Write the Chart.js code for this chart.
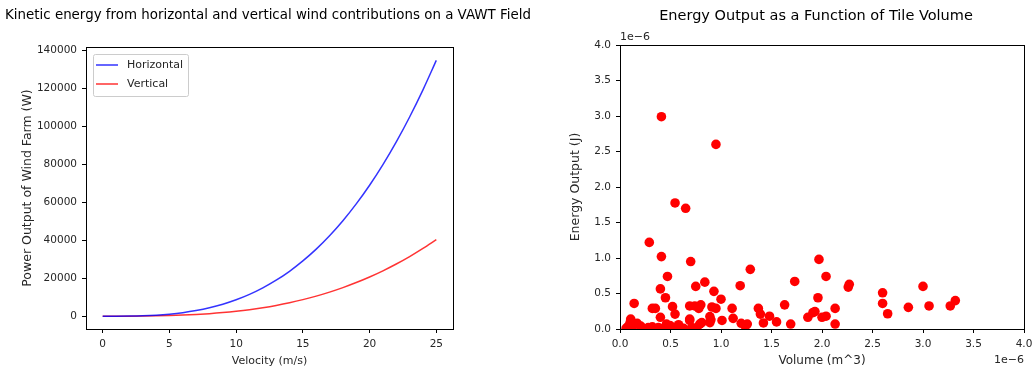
<!DOCTYPE html>
<html>
<head>
<meta charset="utf-8">
<script src="https://cdn.jsdelivr.net/npm/chart.js@4.4.1/dist/chart.umd.min.js"></script>
<style>
  html, body { margin: 0; padding: 0; background: #fff; }
  #wrap { position: relative; width: 1034px; height: 373px; }
  #left { position: absolute; left: 0; top: 0; }
  #right { position: absolute; left: 530px; top: 0; }
</style>
</head>
<body>
<div id="wrap">
  <canvas id="left" width="540" height="373"></canvas>
  <canvas id="right" width="504" height="373"></canvas>
</div>
<script>
// ── data: left panel (power vs wind velocity) ──
const velocity = [0, 1, 2, 3, 4, 5, 6, 7, 8, 9, 10, 11, 12, 13, 14, 15, 16, 17, 18, 19, 20, 21, 22, 23, 24, 25];
const horizontalPower = [0, 10, 70, 230, 550, 1080, 1860, 2960, 4410, 6280, 8620, 11470, 14900, 18940, 23650,
  29100, 35300, 42350, 50270, 59120, 68960, 79830, 91790, 104900, 119200, 134700];
const verticalPower = [0, 3, 21, 70, 165, 320, 560, 890, 1320, 1880, 2580, 3430, 4460, 5670, 7080,
  8710, 10570, 12680, 15050, 17700, 20640, 23890, 27470, 31390, 35670, 40310];
const velocityTicks = [0, 5, 10, 15, 20, 25];
const powerTicks = [0, 20000, 40000, 60000, 80000, 100000, 120000, 140000];

// ── data: right panel (energy vs tile volume), both in units of 1e-6 ──
const tileVolume = [0.41, 0.95, 0.545, 0.65, 0.29, 0.41, 0.70, 0.47, 0.40, 0.45, 0.14, 0.32, 0.35, 0.40, 0.52,
  0.545, 0.75, 0.84, 0.93, 1.00, 0.69, 0.74, 0.80, 0.78, 0.91, 0.95, 0.69, 0.89, 0.90, 1.01,
  1.11, 1.12, 1.19, 1.29, 1.37, 1.39, 1.48, 1.42, 1.55, 1.63, 1.73, 1.69, 1.20, 1.26, 1.24,
  1.97, 2.04, 1.96, 1.91, 1.86, 1.93, 2.00, 2.04, 2.13, 2.13, 2.26, 2.27, 2.60, 2.60, 2.65,
  2.855, 3.00, 3.06, 3.27, 3.32,
  0.106, 0.17, 0.08, 0.06, 0.23, 0.31, 0.32, 0.38, 0.46, 0.495, 0.58, 0.59, 0.69, 0.71, 0.79,
  0.81, 0.76, 0.89, 0.28, 0.205, 0.63, 0.53, 0.43, 0.10, 0.12];
const energyOutput = [2.99, 2.60, 1.775, 1.70, 1.22, 1.02, 0.95, 0.74, 0.565, 0.44, 0.36, 0.29, 0.29, 0.165, 0.315,
  0.21, 0.60, 0.66, 0.53, 0.42, 0.325, 0.325, 0.34, 0.29, 0.31, 0.29, 0.14, 0.175, 0.13, 0.12,
  0.29, 0.15, 0.61, 0.84, 0.29, 0.21, 0.18, 0.085, 0.10, 0.34, 0.67, 0.07, 0.08, 0.07, 0.04,
  0.98, 0.74, 0.44, 0.23, 0.165, 0.245, 0.165, 0.18, 0.29, 0.07, 0.59, 0.63, 0.51, 0.36, 0.215,
  0.305, 0.60, 0.325, 0.325, 0.40,
  0.14, 0.08, 0.035, 0.01, 0.01, 0.01, 0.03, 0.02, 0.07, 0.05, 0.06, 0.03, 0.12, 0.02, 0.07,
  0.09, 0.02, 0.09, 0.02, 0.04, 0.01, 0.02, 0.01, 0.09, 0.01];
const unitTicks = [0, 0.5, 1, 1.5, 2, 2.5, 3, 3.5, 4];

// ── shared style ──
const FONT = 'DejaVu Sans';
const INK = '#262626';

function axis(opts) {
  return {
    type: 'linear',
    min: opts.min, max: opts.max,
    afterBuildTicks: (s) => { s.ticks = opts.ticks.map(v => ({ value: v })); },
    afterFit: (s) => {
      if (opts.width) s.width = opts.width;
      if (opts.height) s.height = opts.height;
      s.paddingLeft = 0; s.paddingRight = 0; s.paddingTop = 0; s.paddingBottom = 0;
    },
    grid: { display: true, drawOnChartArea: false, drawTicks: true, tickLength: 4, color: '#000', lineWidth: 1 },
    border: { display: true, color: '#000', width: 1 },
    ticks: { autoSkip: false, maxRotation: 0, padding: 5, color: INK, font: { family: FONT, size: 10.5 }, callback: opts.fmt },
    title: { display: true, text: opts.title, color: INK, font: { family: FONT, size: opts.titleSize }, padding: { top: 4, bottom: 1 } },
  };
}

// frame + title (+ optional offset texts) drawn around the chart area
function framePlugin(title, titleX, titleSize, offsetText) {
  return {
    id: 'frame',
    afterDraw(chart) {
      const { ctx, chartArea: a } = chart;
      ctx.save();
      ctx.strokeStyle = '#000';
      ctx.lineWidth = 1;
      ctx.strokeRect(Math.round(a.left) + 0.5, Math.round(a.top) + 0.5,
        Math.round(a.right - a.left), Math.round(a.bottom - a.top));
      ctx.fillStyle = '#000';
      ctx.font = titleSize + 'px "' + FONT + '"';
      ctx.textAlign = 'center';
      ctx.textBaseline = 'middle';
      ctx.fillText(title, titleX, 16);
      if (offsetText) {
        ctx.fillStyle = INK;
        ctx.font = '11px "' + FONT + '"';
        ctx.textAlign = 'left';
        ctx.fillText(offsetText, a.left, 37);
        ctx.textAlign = 'right';
        ctx.fillText(offsetText, a.right, 360);
      }
      ctx.restore();
    },
  };
}

// matplotlib-like legend box in the upper left corner
const legendPlugin = {
  id: 'boxLegend',
  afterDraw(chart) {
    const { ctx, chartArea: a } = chart;
    const x = a.left + 7, y = a.top + 7, w = 95, h = 42;
    ctx.save();
    ctx.fillStyle = 'rgba(255,255,255,0.8)';
    ctx.strokeStyle = '#cccccc';
    ctx.lineWidth = 1;
    ctx.beginPath();
    ctx.roundRect(x + 0.5, y + 0.5, w, h, 2);
    ctx.fill();
    ctx.stroke();
    ctx.font = '11px "' + FONT + '"';
    ctx.textBaseline = 'middle';
    ctx.textAlign = 'left';
    chart.data.datasets.forEach((ds, i) => {
      const ly = y + 11 + i * 19;
      ctx.strokeStyle = ds.borderColor;
      ctx.lineWidth = 1.5;
      ctx.beginPath();
      ctx.moveTo(x + 3, ly);
      ctx.lineTo(x + 25, ly);
      ctx.stroke();
      ctx.fillStyle = INK;
      ctx.fillText(ds.label, x + 34, ly);
    });
    ctx.restore();
  },
};

new Chart(document.getElementById('left'), {
  type: 'line',
  data: {
    datasets: [
      { label: 'Horizontal', data: velocity.map((v, i) => ({ x: v, y: horizontalPower[i] })),
        borderColor: 'rgba(0,0,255,0.8)', borderWidth: 1.5, pointRadius: 0, cubicInterpolationMode: 'monotone' },
      { label: 'Vertical', data: velocity.map((v, i) => ({ x: v, y: verticalPower[i] })),
        borderColor: 'rgba(255,0,0,0.8)', borderWidth: 1.5, pointRadius: 0, cubicInterpolationMode: 'monotone' },
    ],
  },
  options: {
    responsive: false, animation: false,
    layout: { padding: { left: 16, right: 87, top: 47, bottom: 4 } },
    plugins: { legend: { display: false }, tooltip: { enabled: false } },
    scales: {
      x: axis({ min: -1.25, max: 26.25, ticks: velocityTicks, height: 40, fmt: v => String(v),
        title: 'Velocity (m/s)', titleSize: 11 }),
      y: axis({ min: -6750, max: 141750, ticks: powerTicks, width: 70, fmt: v => String(v),
        title: 'Power Output of Wind Farm (W)', titleSize: 12.5 }),
    },
  },
  plugins: [framePlugin('Kinetic energy from horizontal and vertical wind contributions on a VAWT Field', 268, 13.4), legendPlugin],
});

new Chart(document.getElementById('right'), {
  type: 'scatter',
  data: {
    datasets: [
      { label: 'Energy', data: tileVolume.map((v, i) => ({ x: v, y: energyOutput[i] })),
        backgroundColor: '#ff0000', borderWidth: 0, pointRadius: 4.8, clip: 0 },
    ],
  },
  options: {
    responsive: false, animation: false,
    layout: { padding: { left: 34, right: 10, top: 45, bottom: 4 } },
    plugins: { legend: { display: false }, tooltip: { enabled: false } },
    scales: {
      x: axis({ min: 0, max: 4, ticks: unitTicks, height: 40, fmt: v => v.toFixed(1),
        title: 'Volume (m^3)', titleSize: 12 }),
      y: axis({ min: 0, max: 4, ticks: unitTicks, width: 56, fmt: v => v.toFixed(1),
        title: 'Energy Output (J)', titleSize: 12.5 }),
    },
  },
  plugins: [framePlugin('Energy Output as a Function of Tile Volume', 286, 14.5, '1e\u22126')],
});
</script>
</body>
</html>
